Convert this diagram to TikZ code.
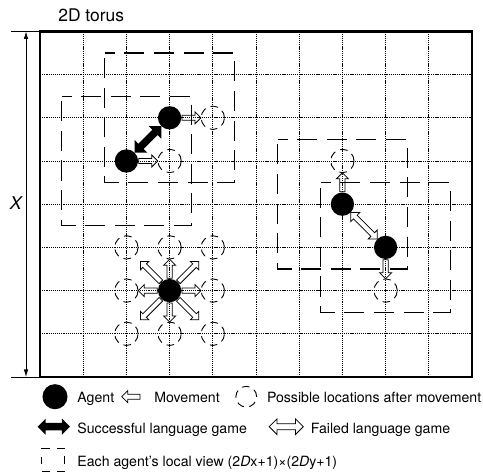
\documentclass[tikz,border=0pt]{standalone}
\usepackage{fontspec}
\setmainfont{TeX Gyre Heros}
\usetikzlibrary{shapes.arrows,arrows.meta,calc}
\begin{document}
\begin{tikzpicture}[
  gridline/.style={line width=0.6pt, dash pattern=on 0.8pt off 0.6pt},
  frameline/.style={line width=1.5pt},
  thinline/.style={line width=0.5pt},
  agent/.style={circle, fill=black, inner sep=0pt, minimum size=0.54cm},
  spot/.style={circle, draw, line width=0.6pt, dash pattern=on 5pt off 3.5pt, inner sep=0pt, minimum size=0.54cm},
  view/.style={line width=0.7pt, dash pattern=on 13.2pt off 6.3pt, dash phase=6.6pt},
  mv/.style={single arrow, draw, line width=0.5pt, inner xsep=0pt, inner ysep=0.05cm, single arrow head extend=0.08cm, minimum height=0.44cm, allow upside down},
  mvdiag/.style={mv, minimum height=0.67cm},
  succ/.style={double arrow, fill=black, inner xsep=0pt, inner ysep=0.08cm, double arrow head extend=0.12cm, minimum height=0.87cm, allow upside down},
  fail/.style={double arrow, draw, line width=0.5pt, inner xsep=0pt, inner ysep=0.05cm, double arrow head extend=0.09cm, minimum height=0.87cm, allow upside down},
  lbl/.style={inner sep=0pt, anchor=base west, font=\fontsize{9.3}{11}\selectfont},
]
\useasboundingbox (-0.926,-2.199) rectangle (10.255,8.727);

% grid
\foreach \i in {1,...,9} \draw[gridline] (\i,0) -- (\i,8);
\foreach \j in {1,...,7} \draw[gridline] (0,\j) -- (10,\j);
\draw[frameline] (0,0) rectangle (10,8);

% title and dimension
\node[inner sep=0pt, anchor=base west, font=\fontsize{11.5}{13}\selectfont] (title) at (0.417,8.228) {2D torus};
\coordinate (exttopL) at (-0.67,8);
\coordinate (exttopR) at (0,8);
\coordinate (extbotL) at (-0.67,0);
\coordinate (extbotR) at (0,0);
\draw[thinline] (exttopL) -- (exttopR);
\draw[thinline] (extbotL) -- (extbotR);
\coordinate (dimtop) at (-0.324,8);
\coordinate (dimbot) at (-0.324,0);
\draw[thinline, {Latex[length=5pt,width=3pt]}-{Latex[length=5pt,width=3pt]}] (dimbot) -- (dimtop);
\node[inner sep=0pt, font=\fontsize{11.6}{13}\selectfont\itshape] (xlabel) at (-0.56,4.03) {X};

% agents
\node[agent] (a1) at (3,6) {};
\node[agent] (a2) at (2,5) {};
\node[agent] (a3) at (7,4) {};
\node[agent] (a4) at (8,3) {};
\node[agent] (a5) at (3,2) {};

% local views
\foreach \a in {a1,a2,a3,a4}
  \draw[view] ($(\a)+(-1.5,1.5)$) -- ($(\a)+(1.5,1.5)$) -- ($(\a)+(1.5,-1.5)$) -- ($(\a)+(-1.5,-1.5)$) -- cycle;

% possible locations
\node[spot] (c1) at (4,6) {};
\node[spot] (c2) at (3,5) {};
\node[spot] (c3) at (7,5) {};
\node[spot] (c4) at (8,2) {};
\node[spot] (pn) at (3,3) {};
\node[spot] (ps) at (3,1) {};
\node[spot] (pe) at (4,2) {};
\node[spot] (pw) at (2,2) {};
\node[spot] (pne) at (4,3) {};
\node[spot] (pnw) at (2,3) {};
\node[spot] (pse) at (4,1) {};
\node[spot] (psw) at (2,1) {};

% movements
\path (a1) -- node[mv, sloped, at start, anchor=tail] {} (c1);
\path (a2) -- node[mv, sloped, at start, anchor=tail] {} (c2);
\path (a3) -- node[mv, sloped, at start, anchor=tail] {} (c3);
\path (a4) -- node[mv, sloped, at start, anchor=tail] {} (c4);
\foreach \p in {pn,ps,pe,pw}
  \path (a5) -- node[mv, sloped, at start, anchor=tail] {} (\p);
\foreach \p in {pne,pnw,pse,psw}
  \path (a5) -- node[mvdiag, sloped, at start, anchor=tail] {} (\p);

% language games
\path (a2) -- node[succ, sloped] {} (a1);
\path (a3) -- node[fail, sloped] {} (a4);

% legend
\node[agent, minimum size=0.58cm] (lagent) at (0.347,-0.456) {};
\node[lbl] (tagent) at (0.86,-0.58) {Agent};
\node[mv, rotate=180, anchor=tip, minimum height=0.42cm] (lmv) at (1.88,-0.456) {};
\node[lbl] (tmv) at (2.64,-0.58) {Movement};
\node[spot, minimum size=0.48cm] (lspot) at (4.775,-0.456) {};
\node[lbl] (tspot) at (5.248,-0.58) {Possible locations after movement};

\node[succ, minimum height=0.75cm, double arrow head extend=0.1cm] (lsucc) at (0.32,-1.15) {};
\node[lbl] (tsucc) at (0.86,-1.303) {Successful language game};
\node[fail, minimum height=0.79cm, inner ysep=0.06cm, double arrow head extend=0.11cm] (lfail) at (5.70,-1.15) {};
\node[lbl] (tfail) at (6.266,-1.303) {Failed language game};

\draw[line width=0.7pt, dash pattern=on 5pt off 5pt] (0.045,-1.655) -- (0.575,-1.655) -- (0.575,-2.185) -- (0.045,-2.185) -- cycle;
\node[lbl] (tview) at (0.86,-2.076) {Each agent’s local view (2\textit{D}x+1)×(2\textit{D}y+1)};
\end{tikzpicture}
\end{document}
